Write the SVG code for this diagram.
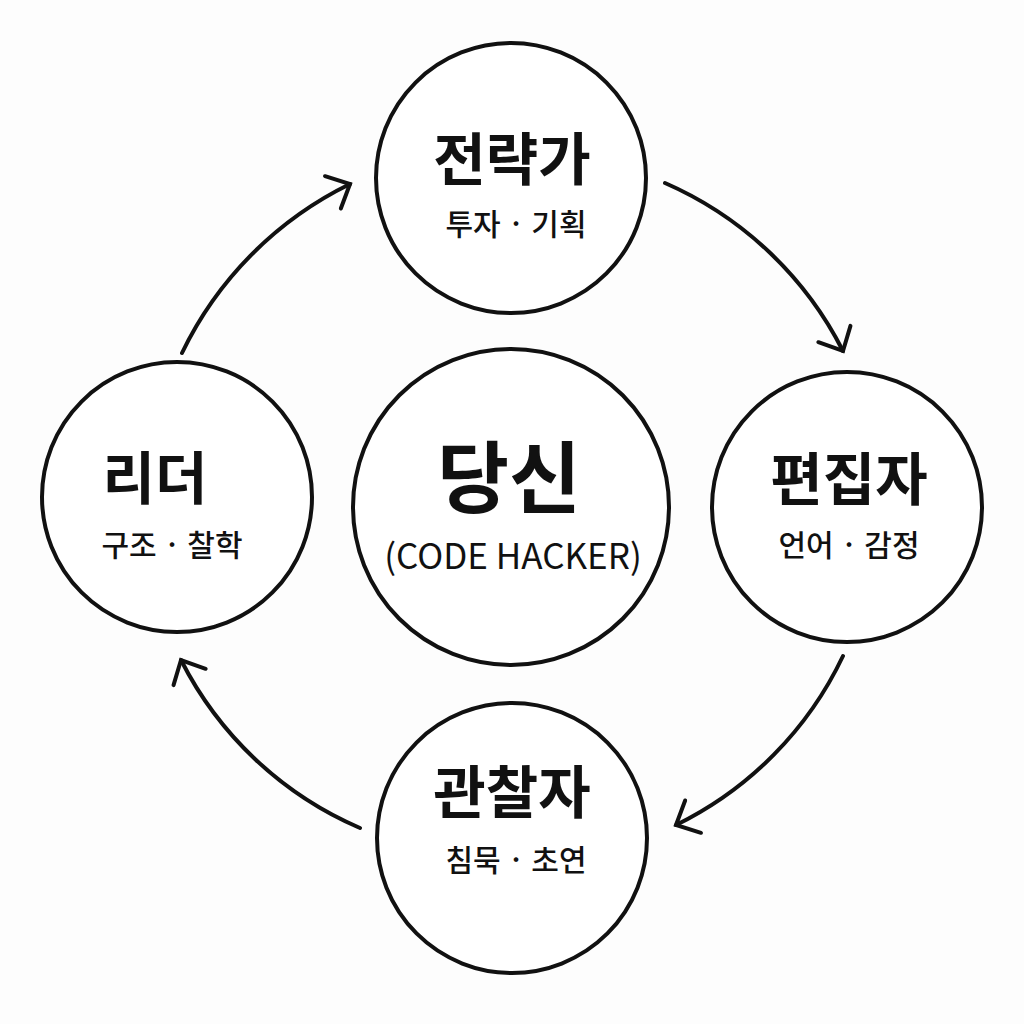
<svg xmlns="http://www.w3.org/2000/svg" width="1024" height="1024" viewBox="0 0 1024 1024">
<defs>
<style>
.node{fill:#fff;stroke:#111;stroke-width:4}
.t{font-family:"Noto Sans CJK KR","Noto Sans",sans-serif;font-weight:700;font-size:57px;fill:#111;text-anchor:middle}
.s{font-family:"Noto Sans CJK KR","Noto Sans",sans-serif;font-weight:500;font-size:30px;fill:#111;text-anchor:middle}
.conn{fill:none;stroke:#111;stroke-width:4;stroke-linecap:round}
</style>
<marker id="arr" markerUnits="userSpaceOnUse" markerWidth="50" markerHeight="50" refX="0" refY="0" viewBox="-25 -25 50 50" orient="auto" overflow="visible">
<path d="M-19,-18 L0,0 L-19,18" fill="none" stroke="#111" stroke-width="4" stroke-linecap="round" stroke-linejoin="miter"/>
</marker>
</defs>
<rect width="1024" height="1024" fill="#fdfdfd"/>
<g id="connectors">
<path class="conn" d="M182,353 A364,364 0 0 1 350,184" marker-end="url(#arr)"/>
<path class="conn" d="M665,183 A362,362 0 0 1 843,351" marker-end="url(#arr)"/>
<path class="conn" d="M843,656 A360,360 0 0 1 676,825" marker-end="url(#arr)"/>
<path class="conn" d="M360,828 A360,360 0 0 1 181,660" marker-end="url(#arr)"/>
</g>
<g id="node-strategist">
<circle class="node" cx="511" cy="178" r="135"/>
<text class="t" x="512" y="180">전략가</text>
<text class="s" x="516" y="235">투자 · 기획</text>
</g>
<g id="node-leader">
<circle class="node" cx="177" cy="497" r="135"/>
<text class="t" x="155" y="499">리더</text>
<text class="s" x="172" y="556">구조 · 찰학</text>
</g>
<g id="node-editor">
<circle class="node" cx="847" cy="507" r="135"/>
<text class="t" x="849" y="500">편집자</text>
<text class="s" x="849" y="556">언어 · 감정</text>
</g>
<g id="node-observer">
<circle class="node" cx="512" cy="838" r="135"/>
<text class="t" x="512" y="813">관찰자</text>
<text class="s" x="516" y="871">침묵 · 초연</text>
</g>
<g id="node-you">
<circle class="node" cx="511" cy="507" r="158"/>
<text class="t" x="509" y="507" style="font-size:78px">당신</text>
<text class="s" x="513" y="569" style="font-size:35px;font-weight:400">(CODE HACKER)</text>
</g>
</svg>
